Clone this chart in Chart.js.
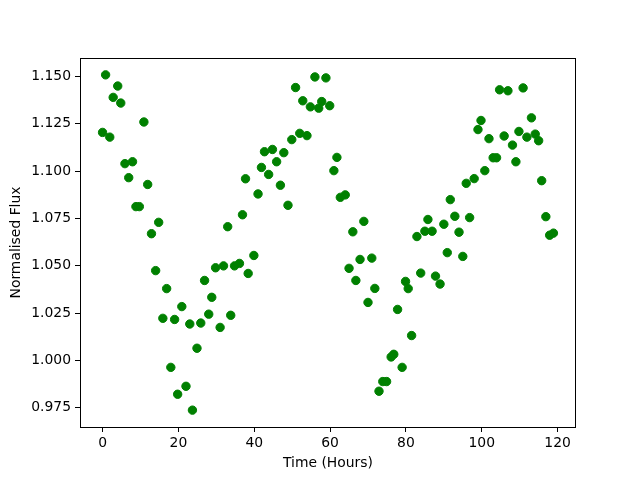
<!DOCTYPE html>
<html lang="en">
<head>
  <meta charset="UTF-8">
  <title>Normalised Flux</title>
  <script src="https://cdn.jsdelivr.net/npm/chart.js"></script>
  <style>
    body { margin: 0; background: #ffffff; }
    canvas { display: block; }
  </style>
</head>
<body>
  <canvas id="grafico" width="640" height="480"></canvas>

  <script>
    // hours and flux
    const hours = [
      0.0, 0.8, 1.9, 2.8, 4.0, 4.8, 5.9, 6.9, 7.9, 8.8, 9.7, 10.9, 11.9, 12.9, 14.0, 14.8,
      15.9, 16.9, 18.0, 19.0, 19.8, 20.9, 22.0, 23.0, 23.7, 24.9, 25.9, 26.9, 28.0, 28.8,
      29.8, 31.0, 31.9, 33.0, 33.8, 34.8, 36.1, 36.9, 37.7, 38.4, 39.9, 41.0, 41.9, 42.7,
      43.8, 44.8, 45.9, 46.9, 47.8, 48.9, 49.9, 50.9, 52.0, 52.8, 53.9, 54.8, 56.0, 57.0,
      57.8, 58.9, 59.9, 61.0, 61.8, 62.7, 64.0, 65.0, 66.0, 66.8, 67.9, 68.9, 70.0, 71.0,
      71.8, 72.9, 73.9, 74.9, 76.1, 76.8, 77.8, 79.0, 79.9, 80.6, 81.5, 82.9, 83.9, 85.0,
      85.8, 86.9, 87.8, 89.0, 90.0, 90.9, 91.7, 92.9, 94.0, 95.0, 95.9, 96.8, 98.0, 99.0,
      99.8, 100.8, 101.9, 103.0, 103.9, 104.7, 105.9, 106.9, 108.1, 109.0, 109.8, 110.9,
      111.9, 113.1, 114.1, 115.0, 115.8, 116.9, 117.9, 118.9
    ];
    const flux = [
      1.1205, 1.1509, 1.1180, 1.1390, 1.1450, 1.1360, 1.1040, 1.0966, 1.1050, 1.0813, 1.0813, 1.1260, 1.0930, 1.0670, 1.0475, 1.0730,
      1.0223, 1.0380, 0.9964, 1.0217, 0.9822, 1.0285, 0.9864, 1.0193, 0.9738, 1.0065, 1.0198, 1.0423, 1.0245, 1.0334,
      1.0490, 1.0175, 1.0500, 1.0707, 1.0239, 1.0500, 1.0513, 1.0770, 1.0960, 1.0460, 1.0555, 1.0880, 1.1020, 1.1103,
      1.0983, 1.1115, 1.1050, 1.0926, 1.1098, 1.0820, 1.1167, 1.1442, 1.1200, 1.1372, 1.1188, 1.1340, 1.1498, 1.1333,
      1.1368, 1.1493, 1.1346, 1.1003, 1.1073, 1.0862, 1.0875, 1.0487, 1.0680, 1.0423, 1.0534, 1.0735, 1.0307, 1.0541,
      1.0381, 0.9838, 0.9889, 0.9889, 1.0019, 1.0033, 1.0270, 0.9964, 1.0418, 1.0380, 1.0132, 1.0655, 1.0462, 1.0683,
      1.0745, 1.0683, 1.0446, 1.0404, 1.0720, 1.0570, 1.0850, 1.0762, 1.0678, 1.0550, 1.0936, 1.0755, 1.0961, 1.1220,
      1.1268, 1.1003, 1.1172, 1.1071, 1.1071, 1.1430, 1.1186, 1.1425, 1.1138, 1.1050, 1.1210, 1.1440,
      1.1180, 1.1282, 1.1196, 1.1161, 1.0950, 1.0760, 1.0662, 1.0673
    ];
    const xTicks = [0, 20, 40, 60, 80, 100, 120];
    const yTicks = [0.975, 1.000, 1.025, 1.050, 1.075, 1.100, 1.125, 1.150];

    const fonte = { family: 'DejaVu Sans', size: 13.9 };

    // moldura completa em volta da área do gráfico
    const moldura = {
      id: 'moldura',
      afterDraw(chart) {
        const a = chart.chartArea;
        const ctx = chart.ctx;
        ctx.save();
        ctx.strokeStyle = '#000';
        ctx.lineWidth = 1;
        const l = Math.round(a.left) + 0.5, t = Math.round(a.top) + 0.5;
        const r = Math.round(a.right) - 0.5, b = Math.round(a.bottom) + 0.5;
        ctx.strokeRect(l, t, r - l, b - t);
        ctx.restore();
      }
    };

    const pontos = hours.map((h, i) => ({ x: h, y: flux[i] }));

    new Chart(document.getElementById('grafico'), {
      type: 'scatter',
      data: {
        datasets: [{
          data: pontos,
          backgroundColor: '#008000',
          borderColor: '#008000',
          borderWidth: 1,
          pointRadius: 4.2,
          pointHoverRadius: 4.2
        }]
      },
      options: {
        responsive: false,
        animation: false,
        events: [],
        layout: { padding: { top: 58, right: 64, left: 0, bottom: 0 } },
        plugins: { legend: { display: false }, tooltip: { enabled: false } },
        scales: {
          x: {
            type: 'linear',
            min: -5.95,
            max: 124.85,
            afterBuildTicks: s => { s.ticks = xTicks.map(v => ({ value: v })); },
            afterFit: s => { s.height = 53; },
            grid: { drawOnChartArea: false, drawTicks: true, tickLength: 5, color: '#000' },
            border: { display: false },
            ticks: { color: '#000', font: fonte, padding: 3, maxRotation: 0,
              callback: v => String(v) },
            title: { display: true, text: 'Time (Hours)', color: '#000', font: fonte,
              padding: { top: 0, bottom: 8.5 } }
          },
          y: {
            type: 'linear',
            min: 0.9649,
            max: 1.1598,
            afterBuildTicks: s => { s.ticks = yTicks.map(v => ({ value: v })); },
            afterFit: s => { s.width = 80; },
            grid: { drawOnChartArea: false, drawTicks: true, tickLength: 5, color: '#000' },
            border: { display: false },
            ticks: { color: '#000', font: fonte, padding: 4,
              callback: v => Number(v).toFixed(3) },
            title: { display: true, text: 'Normalised Flux', color: '#000', font: fonte,
              padding: { top: 8.5, bottom: 0 } }
          }
        }
      },
      plugins: [moldura]
    });
  </script>
</body>
</html>
